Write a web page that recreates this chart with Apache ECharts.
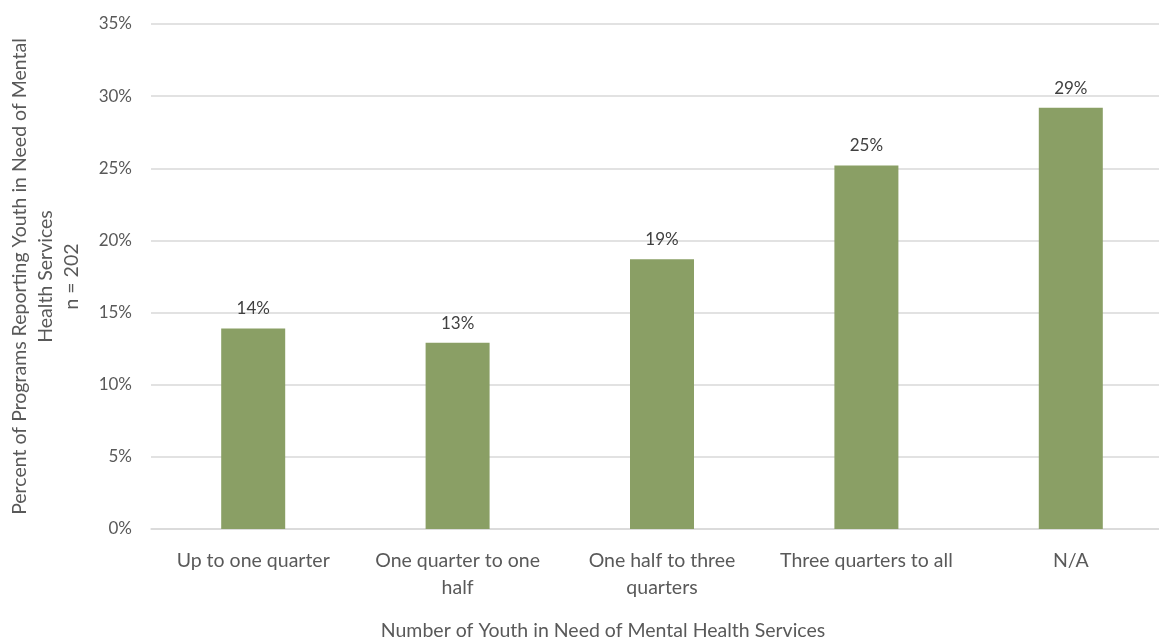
<!DOCTYPE html>
<html>
<head>
<meta charset="utf-8">
<script src="https://cdn.jsdelivr.net/npm/echarts@6/dist/echarts.min.js"></script>
<style>
  html, body { margin: 0; padding: 0; background: #ffffff; }
  #chart { width: 1159px; height: 642px; }
</style>
</head>
<body>
<div id="chart"></div>
<script>
// Share of programs by how many of their youth need mental health services
const categories = [
  'Up to one quarter',
  'One quarter to one\nhalf',
  'One half to three\nquarters',
  'Three quarters to all',
  'N/A'
];
const percentValues = [13.9, 12.9, 18.7, 25.2, 29.2];
const yTicks = { min: 0, max: 35, interval: 5 };
const yAxisTitle = 'Percent of Programs Reporting Youth in Need of Mental\nHealth Services\nn = 202';
const xAxisTitle = 'Number of Youth in Need of Mental Health Services';

const FONT = 'Lato, "Open Sans", sans-serif';
const TEXT_GREY = '#595959';

const chart = echarts.init(document.getElementById('chart'), null, { renderer: 'canvas' });

chart.setOption({
  animation: false,
  backgroundColor: '#ffffff',
  grid: {
    left: 151,
    right: -14,
    top: 24,
    bottom: 113,
    outerBoundsMode: 'none',
    containLabel: false
  },
  xAxis: {
    type: 'category',
    data: categories,
    axisLine: { show: true, lineStyle: { color: '#d9d9d9', width: 1.5 } },
    axisTick: { show: false },
    axisLabel: {
      color: TEXT_GREY,
      fontFamily: FONT,
      fontSize: 19.5,
      lineHeight: 27,
      margin: 18,
      interval: 0
    }
  },
  yAxis: {
    type: 'value',
    min: yTicks.min,
    max: yTicks.max,
    interval: yTicks.interval,
    name: yAxisTitle,
    nameLocation: 'middle',
    nameRotate: 90,
    nameGap: 66,
    nameTextStyle: {
      color: TEXT_GREY,
      fontFamily: FONT,
      fontSize: 19.5,
      lineHeight: 26,
      align: 'center'
    },
    axisLine: { show: false },
    axisTick: { show: false },
    splitLine: { lineStyle: { color: '#d9d9d9', width: 1.5 } },
    axisLabel: {
      color: TEXT_GREY,
      fontFamily: FONT,
      fontSize: 17,
      margin: 19,
      formatter: v => v + '%'
    }
  },
  series: [{
    type: 'bar',
    data: percentValues,
    barWidth: 64,
    itemStyle: { color: '#8a9f65' },
    label: {
      show: true,
      position: 'top',
      distance: 11,
      color: '#404040',
      fontFamily: FONT,
      fontSize: 17,
      formatter: p => Math.round(p.value) + '%'
    }
  }],
  graphic: [{
    type: 'text',
    x: 603,
    y: 631,
    style: {
      text: xAxisTitle,
      fill: TEXT_GREY,
      font: '19.5px ' + FONT,
      textAlign: 'center',
      textVerticalAlign: 'middle'
    }
  }]
});
</script>
</body>
</html>
